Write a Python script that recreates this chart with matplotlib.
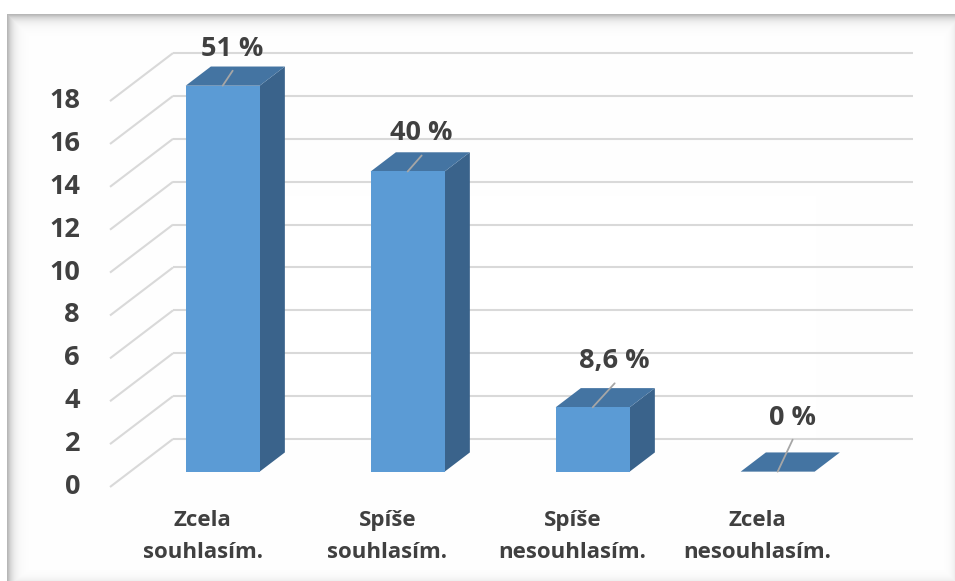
import numpy as np
import matplotlib
matplotlib.use("Agg")
import matplotlib.pyplot as plt
from matplotlib.patches import Polygon

# data
categories = ["Zcela\nsouhlasím.", "Spíše\nsouhlasím.", "Spíše\nnesouhlasím.", "Zcela\nnesouhlasím."]
counts = [18, 14, 3, 0]
pct_labels = ["51 %", "40 %", "8,6 %", "0 %"]
y_ticks = [0, 2, 4, 6, 8, 10, 12, 14, 16, 18]

# layout (pixels, figure is 955x581 at dpi 100)
W, H = 955, 581
ORIGIN_PX = (110, 487)       # front-left corner of floor (x, y from top)
CAT_PX = 185                 # pixels per category
VAL_PX = 21.44               # pixels per value unit
DEPTH_PX = (63, 48)          # full depth offset
BAR_W = 0.4
BAR_FRONT, BAR_BACK = 0.32, 0.72
# label offsets from front-top centre of each bar (px right, px up)
LABEL_OFFSETS = [(10, 37), (14, 38), (22, 46), (15, 54)]

FRONT = "#5B9BD5"
TOP = "#4474A2"
SIDE = "#3A638B"
GRID = "#D9D9D9"
TEXT = "#404040"
FONT = "Open Sans"

fig = plt.figure(figsize=(W / 100, H / 100), dpi=100)
ax = fig.add_axes([0, 0, 1, 1])
ax.axis("off")

x_left = -0.5 - ORIGIN_PX[0] / CAT_PX
ax.set_xlim(x_left, x_left + W / CAT_PX)
y_bot = -(H - ORIGIN_PX[1]) / VAL_PX
ax.set_ylim(y_bot, y_bot + H / VAL_PX)

ddx = DEPTH_PX[0] / CAT_PX
ddy = DEPTH_PX[1] / VAL_PX
n = len(categories)


def proj(x, y, d):
    """Oblique projection: move a point back by depth fraction d."""
    return (x + d * ddx, y + d * ddy)


# back wall gridlines and left wall diagonals
for v in y_ticks:
    x0, y0 = proj(-0.5, v, 1.0)
    x1, y1 = proj(n - 0.5, v, 1.0)
    ax.plot([x0, x1], [y0, y1], color=GRID, lw=1.5, zorder=1, solid_capstyle="butt")
    ax.plot([-0.5, x0], [v, y0], color=GRID, lw=1.5, zorder=1, solid_capstyle="butt")
    ax.annotate(str(v), xy=(-0.5, v), xytext=(-30, 0), textcoords="offset pixels",
                ha="right", va="center", fontsize=19.5, fontweight="bold",
                color=TEXT, family=FONT)

# bars
for i, v in enumerate(counts):
    l, r = i - BAR_W / 2, i + BAR_W / 2
    fl, fr = proj(l, 0, BAR_FRONT), proj(r, 0, BAR_FRONT)
    flt, frt = proj(l, v, BAR_FRONT), proj(r, v, BAR_FRONT)
    bl, br = proj(l, v, BAR_BACK), proj(r, v, BAR_BACK)
    br0 = proj(r, 0, BAR_BACK)
    if v > 0:
        ax.add_patch(Polygon([fr, br0, br, frt], closed=True, fc=SIDE, ec="none", zorder=3))
    ax.add_patch(Polygon([flt, frt, br, bl], closed=True, fc=TOP, ec="none", zorder=3))
    if v > 0:
        ax.add_patch(Polygon([fl, fr, frt, flt], closed=True, fc=FRONT, ec="none", zorder=4))

    # data label with leader line
    cx, cy = proj(i, v, BAR_FRONT)
    ox, oy = LABEL_OFFSETS[i]
    ax.annotate(pct_labels[i], xy=(cx, cy), xytext=(ox, oy), textcoords="offset pixels",
                ha="center", va="center", fontsize=19.5, fontweight="bold",
                color=TEXT, family=FONT, zorder=6)
    ax.annotate("", xy=(cx, cy), xytext=(ox, oy - 22), textcoords="offset pixels",
                arrowprops=dict(arrowstyle="-", color="#A6A6A6", lw=1.3,
                                shrinkA=0, shrinkB=0), zorder=5)

    # category label at front of floor
    ax.annotate(categories[i], xy=(i, 0), xytext=(0, -23), textcoords="offset pixels",
                ha="center", va="top", fontsize=16, fontweight="bold",
                color=TEXT, family=FONT, linespacing=1.7)

# chart frame with inner shadow
yy, xx = np.mgrid[0:H, 0:W].astype(float)
top_edge, left_edge = 14, 7
dark = np.zeros((H, W))
inside = (yy >= top_edge) & (xx >= left_edge)
dark = np.maximum(dark, np.where(yy >= top_edge, 0.30 * np.exp(-(yy - top_edge) / 5.0), 0))
dark = np.maximum(dark, np.where(xx >= left_edge, 0.30 * np.exp(-(xx - left_edge) / 5.0), 0))
dark = np.maximum(dark, 0.06 * np.exp(-(W - 1 - xx) / 4.0))
dark = np.maximum(dark, 0.06 * np.exp(-(H - 1 - yy) / 4.0))
dark = np.where(inside, dark, 0.0)
edge = ((yy == top_edge) & (xx >= left_edge)) | ((xx == left_edge) & (yy >= top_edge))
dark = np.where(edge, 0.28, dark)
img = np.ones((H, W, 3)) * (1 - dark)[..., None]
fi = fig.figimage(img, xo=0, yo=0, origin="upper")
fi.set_zorder(-1)

fig.savefig("out.png", dpi=100, facecolor="white")
